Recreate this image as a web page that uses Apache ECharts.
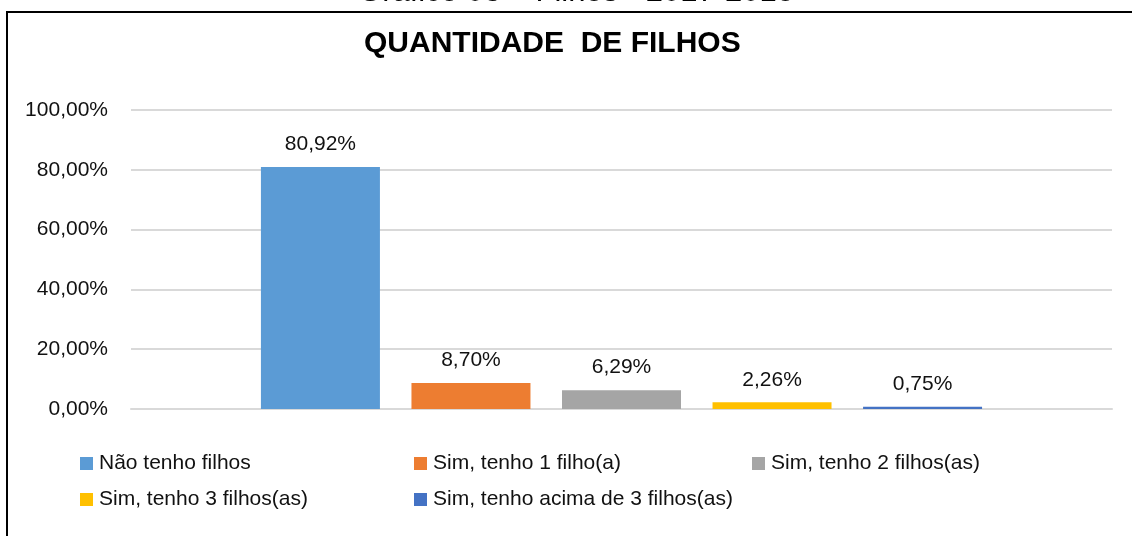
<!DOCTYPE html>
<html>
<head>
<meta charset="utf-8">
<script src="https://cdn.jsdelivr.net/npm/echarts@6/dist/echarts.min.js"></script>
<style>
html,body{margin:0;padding:0;background:#fff;}
#chart{width:1132px;height:536px;}
</style>
</head>
<body>
<div id="chart"></div>
<script>
const categories = ['Quantidade de filhos'];
const seriesNames = ['Não tenho filhos', 'Sim, tenho 1 filho(a)', 'Sim, tenho 2 filhos(as)', 'Sim, tenho 3 filhos(as)', 'Sim, tenho acima de 3 filhos(as)'];
const seriesValues = [80.92, 8.70, 6.29, 2.26, 0.75];
const seriesColors = ['#5b9bd5', '#ed7d31', '#a5a5a5', '#ffc000', '#4472c4'];
const yTicks = [0, 20, 40, 60, 80, 100];
const chartTitle = 'QUANTIDADE  DE FILHOS';
const topCaption = 'Gráfico 03 – Filhos - 2017-2018';

const FONT = '"Liberation Sans", Arial, sans-serif';
const fmt = v => v.toFixed(2).replace('.', ',') + '%';

const legendPos = [
  {left: 80, top: 453}, {left: 414, top: 453}, {left: 752, top: 453},
  {left: 80, top: 489}, {left: 414, top: 489}
];

const chart = echarts.init(document.getElementById('chart'), null, {renderer: 'canvas'});
chart.setOption({
  animation: false,
  backgroundColor: '#fff',
  title: {
    text: chartTitle,
    left: 364,
    top: 29,
    padding: 0,
    textStyle: {fontFamily: FONT, fontWeight: 'bold', fontSize: 30, color: '#000'}
  },
  graphic: [
    {type: 'rect', shape: {x: 7, y: 12, width: 1300, height: 700}, style: {fill: 'none', stroke: '#000', lineWidth: 2}, silent: true},
    {type: 'text', style: {x: 576, y: 8, text: topCaption, align: 'center', verticalAlign: 'bottom', font: '31px ' + FONT, fill: '#000'}, silent: true}
  ],
  legend: seriesNames.map((n, i) => ({
    data: [n],
    left: legendPos[i].left,
    top: legendPos[i].top,
    padding: 0,
    icon: 'rect',
    itemWidth: 13,
    itemHeight: 13,
    itemGap: 5,
    textStyle: {fontFamily: FONT, fontSize: 21, color: '#111', padding: [0, 0, 0, 1]}
  })),
  grid: {left: 131, right: 20, top: 110, bottom: 127, containLabel: false},
  xAxis: {
    type: 'category',
    data: categories,
    axisLine: {show: true, lineStyle: {color: '#d9d9d9', width: 2}},
    axisTick: {show: false},
    axisLabel: {show: false}
  },
  yAxis: {
    type: 'value',
    min: yTicks[0],
    max: yTicks[yTicks.length - 1],
    interval: yTicks[1] - yTicks[0],
    axisLine: {show: false},
    axisTick: {show: false},
    splitLine: {lineStyle: {color: '#d9d9d9', width: 2}},
    axisLabel: {formatter: v => fmt(v), fontFamily: FONT, fontSize: 21, color: '#111', margin: 23}
  },
  series: seriesNames.map((n, i) => ({
    name: n,
    type: 'bar',
    data: [seriesValues[i]],
    barWidth: 119,
    barGap: '26.5%',
    itemStyle: {color: seriesColors[i]},
    label: {
      show: true,
      position: 'top',
      distance: 12,
      formatter: p => fmt(p.value),
      fontFamily: FONT,
      fontSize: 21,
      color: '#111'
    }
  }))
});
</script>
</body>
</html>
